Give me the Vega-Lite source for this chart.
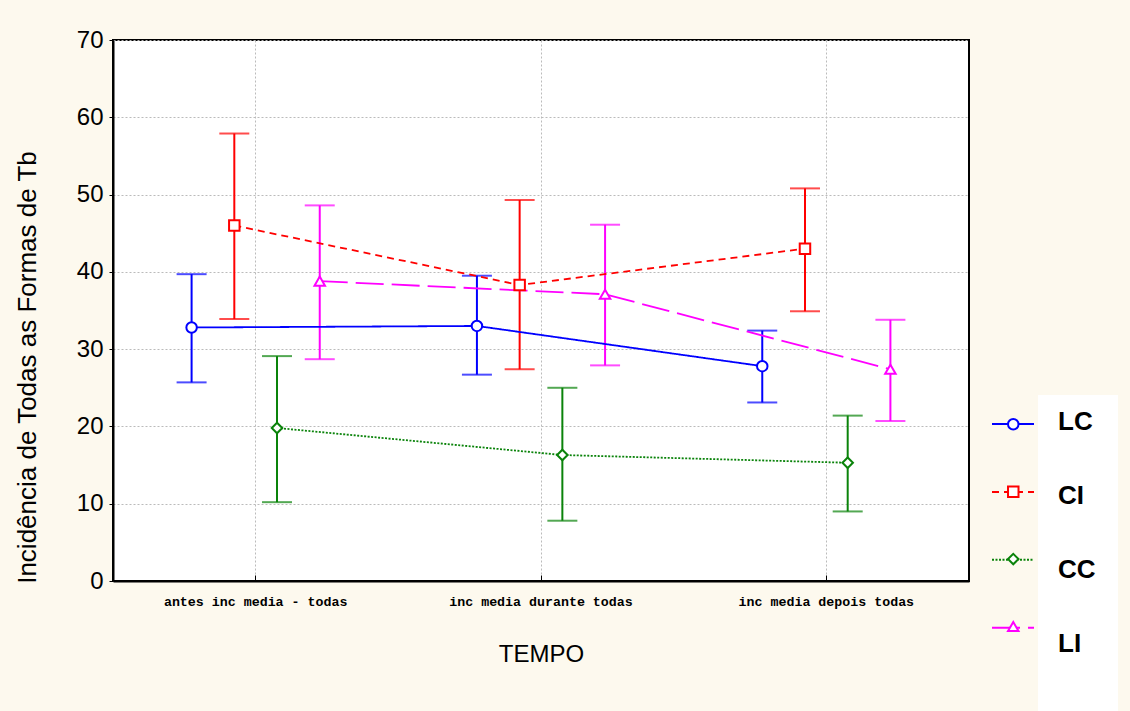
{
  "$schema": "https://vega.github.io/schema/vega-lite/v6.json",
  "width": 856,
  "height": 541,
  "autosize": {"type": "none"},
  "padding": {"left": 113, "top": 40, "right": 161, "bottom": 130},
  "background": "#fdf9ee",
  "config": {
    "font": "Liberation Sans",
    "view": {"stroke": "black", "strokeWidth": 2, "fill": "white"}
  },
  "data": {
    "values": [
      {"tempo": "antes inc media - todas", "series": "LC", "sd": "LC-d", "sh": "LC-s", "mean": 32.8, "lo": 25.7, "hi": 39.7},
      {"tempo": "inc media durante todas", "series": "LC", "sd": "LC-d", "sh": "LC-s", "mean": 33.0, "lo": 26.7, "hi": 39.5},
      {"tempo": "inc media depois todas", "series": "LC", "sd": "LC-d", "sh": "LC-s", "mean": 27.8, "lo": 23.1, "hi": 32.4},
      {"tempo": "antes inc media - todas", "series": "CI", "sd": "CI-d", "sh": "CI-s", "mean": 46.0, "lo": 33.9, "hi": 57.9},
      {"tempo": "inc media durante todas", "series": "CI", "sd": "CI-d", "sh": "CI-s", "mean": 38.3, "lo": 27.4, "hi": 49.3},
      {"tempo": "inc media depois todas", "series": "CI", "sd": "CI-d", "sh": "CI-s", "mean": 43.0, "lo": 34.9, "hi": 50.8},
      {"tempo": "antes inc media - todas", "series": "CC", "sd": "CC-d", "sh": "CC-s", "mean": 19.8, "lo": 10.2, "hi": 29.1},
      {"tempo": "inc media durante todas", "series": "CC", "sd": "CC-d", "sh": "CC-s", "mean": 16.3, "lo": 7.8, "hi": 25.0},
      {"tempo": "inc media depois todas", "series": "CC", "sd": "CC-d", "sh": "CC-s", "mean": 15.3, "lo": 9.0, "hi": 21.4},
      {"tempo": "antes inc media - todas", "series": "LI", "sd": "LI-d", "sh": "LI-s", "mean": 38.8, "lo": 28.7, "hi": 48.6},
      {"tempo": "inc media durante todas", "series": "LI", "sd": "LI-d", "sh": "LI-s", "mean": 37.1, "lo": 27.9, "hi": 46.1},
      {"tempo": "inc media depois todas", "series": "LI", "sd": "LI-d", "sh": "LI-s", "mean": 27.4, "lo": 20.7, "hi": 33.8}
    ]
  },
  "encoding": {
    "x": {
      "field": "tempo",
      "type": "nominal",
      "sort": ["antes inc media - todas", "inc media durante todas", "inc media depois todas"],
      "scale": {"paddingInner": 0, "paddingOuter": 0},
      "axis": {
        "title": "TEMPO",
        "titleFont": "Liberation Sans",
        "titleFontSize": 24,
        "titleFontWeight": "normal",
        "titleColor": "black",
        "titlePadding": 35,
        "labelAngle": 0,
        "labelFont": "Liberation Mono",
        "labelFontWeight": "bold",
        "labelFontSize": 13.3,
        "labelColor": "black",
        "labelPadding": 19,
        "labelDx": 6,
        "labelLimit": 400,
        "bandPosition": 0.5,
        "grid": true,
        "gridDash": [2, 2],
        "gridColor": "#bbbbbb",
        "gridWidth": 1,
        "ticks": true,
        "tickSize": -6,
        "tickColor": "black",
        "domainColor": "black",
        "domainWidth": 2
      }
    },
    "xOffset": {
      "field": "series",
      "type": "nominal",
      "scale": {"domain": ["p1", "LC", "CI", "CC", "LI", "p2"], "paddingInner": 0, "paddingOuter": 0.34}
    }
  },
  "layer": [
    {
      "mark": {"type": "rule", "strokeWidth": 2},
      "encoding": {
        "color": {
          "field": "series",
          "type": "nominal",
          "scale": {"domain": ["LC", "CI", "CC", "LI"], "range": ["#0000ff", "#ff0000", "#0a830a", "#ff00ff"]},
          "legend": {
            "title": "\u00a0",
            "titleOrient": "bottom",
            "titleFontSize": 10,
            "titlePadding": 4,
            "orient": "none",
            "legendX": 925,
            "legendY": 355,
            "fillColor": "white",
            "padding": 8,
            "symbolType": "circle",
            "symbolSize": 4096,
            "symbolOpacity": 0,
            "symbolStrokeWidth": 0,
            "rowPadding": 10,
            "labelOffset": -52,
            "labelBaseline": "bottom",
            "labelFont": "Liberation Sans",
            "labelFontSize": 26,
            "labelFontWeight": "bold",
            "labelColor": "black"
          }
        },
        "y": {
          "field": "lo",
          "type": "quantitative",
          "scale": {"domain": [0, 70], "nice": false},
          "axis": {
            "title": "Incidência de Todas as Formas de Tb",
            "titleFont": "Liberation Sans",
            "titleFontSize": 26,
            "titleFontWeight": "normal",
            "titleColor": "black",
            "titleAngle": -90,
            "titleAlign": "center",
            "titleBaseline": "bottom",
            "titleX": -73,
            "titleY": 327,
            "values": [0, 10, 20, 30, 40, 50, 60, 70],
            "labelFont": "Liberation Sans",
            "labelFontSize": 24,
            "labelColor": "black",
            "labelPadding": 6,
            "tickSize": 4,
            "tickColor": "black",
            "domainColor": "black",
            "domainWidth": 2,
            "grid": true,
            "gridDash": [2, 2],
            "gridColor": "#bbbbbb",
            "gridWidth": 1
          }
        },
        "y2": {"field": "hi"}
      }
    },
    {
      "mark": {"type": "tick", "size": 30, "thickness": 2},
      "encoding": {
        "color": {"field": "series", "type": "nominal", "legend": null},
        "y": {"field": "lo", "type": "quantitative"}
      }
    },
    {
      "mark": {"type": "tick", "size": 30, "thickness": 2},
      "encoding": {
        "color": {"field": "series", "type": "nominal", "legend": null},
        "y": {"field": "hi", "type": "quantitative"}
      }
    },
    {
      "mark": {"type": "line", "strokeWidth": 1.8},
      "encoding": {
        "color": {"field": "series", "type": "nominal", "legend": null},
        "y": {"field": "mean", "type": "quantitative"},
        "strokeDash": {
          "field": "sd",
          "type": "nominal",
          "scale": {"domain": ["LC-d", "CI-d", "CC-d", "LI-d"], "range": [[1, 0], [7, 5], [2, 1.5], [28, 8]]},
          "legend": {
            "title": null,
            "orient": "none",
            "legendX": 878,
            "legendY": 362,
            "padding": 0,
            "symbolType": "stroke",
            "symbolSize": 1764,
            "symbolStrokeWidth": 2,
            "rowPadding": 41.9,
            "labelFontSize": 1,
            "labelOpacity": 0,
            "labelOffset": 0,
            "encode": {
              "symbols": {"update": {"stroke": {"signal": "datum.value === 'LC-d' ? '#0000ff' : datum.value === 'CI-d' ? '#ff0000' : datum.value === 'CC-d' ? '#0a830a' : '#ff00ff'"}}}
            }
          }
        }
      }
    },
    {
      "mark": {"type": "point", "filled": false, "fill": "white", "size": 110, "strokeWidth": 2, "opacity": 1},
      "encoding": {
        "y": {"field": "mean", "type": "quantitative"},
        "stroke": {
          "field": "sh",
          "type": "nominal",
          "scale": {"domain": ["LC-s", "CI-s", "CC-s", "LI-s"], "range": ["#0000ff", "#ff0000", "#0a830a", "#ff00ff"]},
          "legend": {
            "title": null,
            "orient": "none",
            "legendX": 893.76,
            "legendY": 377.76,
            "padding": 0,
            "symbolSize": 110,
            "symbolStrokeWidth": 2,
            "symbolFillColor": "white",
            "rowPadding": 48.4,
            "labelFontSize": 1,
            "labelOpacity": 0,
            "labelOffset": 0
          }
        },
        "shape": {
          "field": "sh",
          "type": "nominal",
          "scale": {"domain": ["LC-s", "CI-s", "CC-s", "LI-s"], "range": ["circle", "square", "diamond", "triangle-up"]},
          "legend": {
            "title": null,
            "orient": "none",
            "legendX": 893.76,
            "legendY": 377.76,
            "padding": 0,
            "symbolSize": 110,
            "symbolStrokeWidth": 2,
            "symbolFillColor": "white",
            "rowPadding": 48.4,
            "labelFontSize": 1,
            "labelOpacity": 0,
            "labelOffset": 0
          }
        }
      }
    }
  ]
}
